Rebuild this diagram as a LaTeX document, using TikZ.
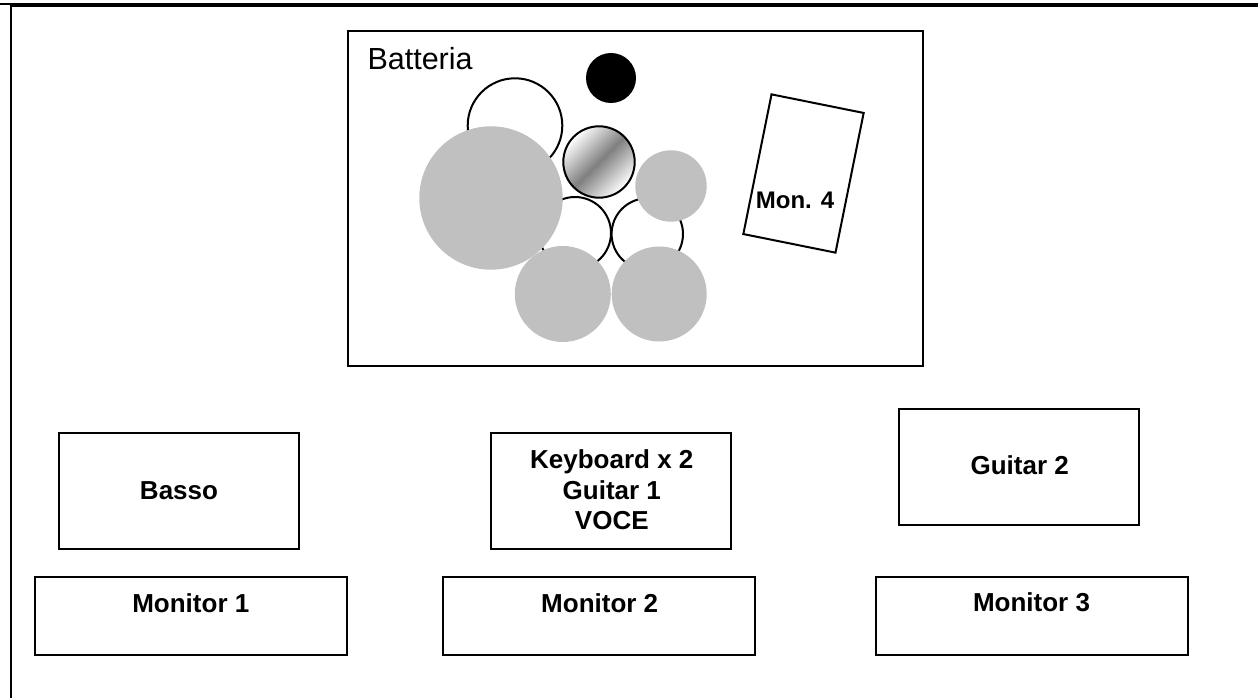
\documentclass[tikz,border=0pt]{standalone}
\usepackage{fontspec}
\setmainfont{Liberation Sans}
\definecolor{drumgray}{HTML}{C0C0C0}
\begin{document}
\begin{tikzpicture}[x=1pt,y=-1pt,
  box/.style={draw,line width=2pt,inner sep=0pt,outer sep=0pt},
  lbl/.style={inner sep=0pt,anchor=base,font=\fontsize{26}{30}\selectfont\bfseries},
  openc/.style={draw,line width=2pt,fill=white},
  grayc/.style={fill=drumgray}]
\useasboundingbox (0,0) rectangle (1258,698);
% page frame
\draw[line width=4pt] (10,5) -- (1258,5);
\draw[line width=2pt] (0,4) -- (10,4);
\draw[line width=2pt] (11,4) -- (11,698);
% drum riser
\node[box,minimum width=575pt,minimum height=335pt] (batt) at (635,198.25) {};
\node[inner sep=0pt,anchor=base west,font=\fontsize{30.5}{34}\selectfont] (battl) at (367.3,70) {Batteria};
% drum kit
\draw[openc] (515,125.6) circle[radius=47.3pt];
\draw[openc] (575,233) circle[radius=36pt];
\draw[openc] (647.3,234) circle[radius=35.7pt];
\fill[grayc] (491,198) circle[radius=71.7pt];
\shadedraw[line width=2pt,top color=white,bottom color=white,middle color=gray,shading angle=45] (599,162) circle[radius=35.7pt];
\fill[grayc] (671,186) circle[radius=35.7pt];
\fill[grayc] (562.8,294) circle[radius=48pt];
\fill[grayc] (659.2,294) circle[radius=47.5pt];
\fill[black] (611,78) circle[radius=25pt];
% monitor 4
\node[box,minimum width=94pt,minimum height=142.5pt,rotate=-11.4] (mon4) at (803.5,173.5) {};
\node[lbl,font=\fontsize{24}{28}\selectfont\bfseries] (mon4l) at (795,208.3) {Mon. 4};
% players
\node[box,minimum width=240pt,minimum height=116pt] (basso) at (178.5,490.5) {};
\node[lbl] (bassol) at (179,499.3) {Basso};
\node[box,minimum width=240pt,minimum height=116pt] (keys) at (611.2,490.7) {};
\node[lbl] (keysa) at (611.8,468.3) {Keyboard x 2};
\node[lbl] (keysb) at (611.8,499) {Guitar 1};
\node[lbl] (keysc) at (611.8,529.3) {VOCE};
\node[box,minimum width=240pt,minimum height=116pt] (gtr) at (1019.2,466.8) {};
\node[lbl] (gtrl) at (1019.7,474) {Guitar 2};
% monitors
\node[box,minimum width=312pt,minimum height=78pt] (m1) at (191.2,615.5) {};
\node[lbl] (m1l) at (190.8,612.3) {Monitor 1};
\node[box,minimum width=312pt,minimum height=78pt] (m2) at (599.2,615.8) {};
\node[lbl] (m2l) at (599.7,612.3) {Monitor 2};
\node[box,minimum width=312pt,minimum height=78pt] (m3) at (1031.5,615.5) {};
\node[lbl] (m3l) at (1031.5,611.7) {Monitor 3};
\end{tikzpicture}
\end{document}
